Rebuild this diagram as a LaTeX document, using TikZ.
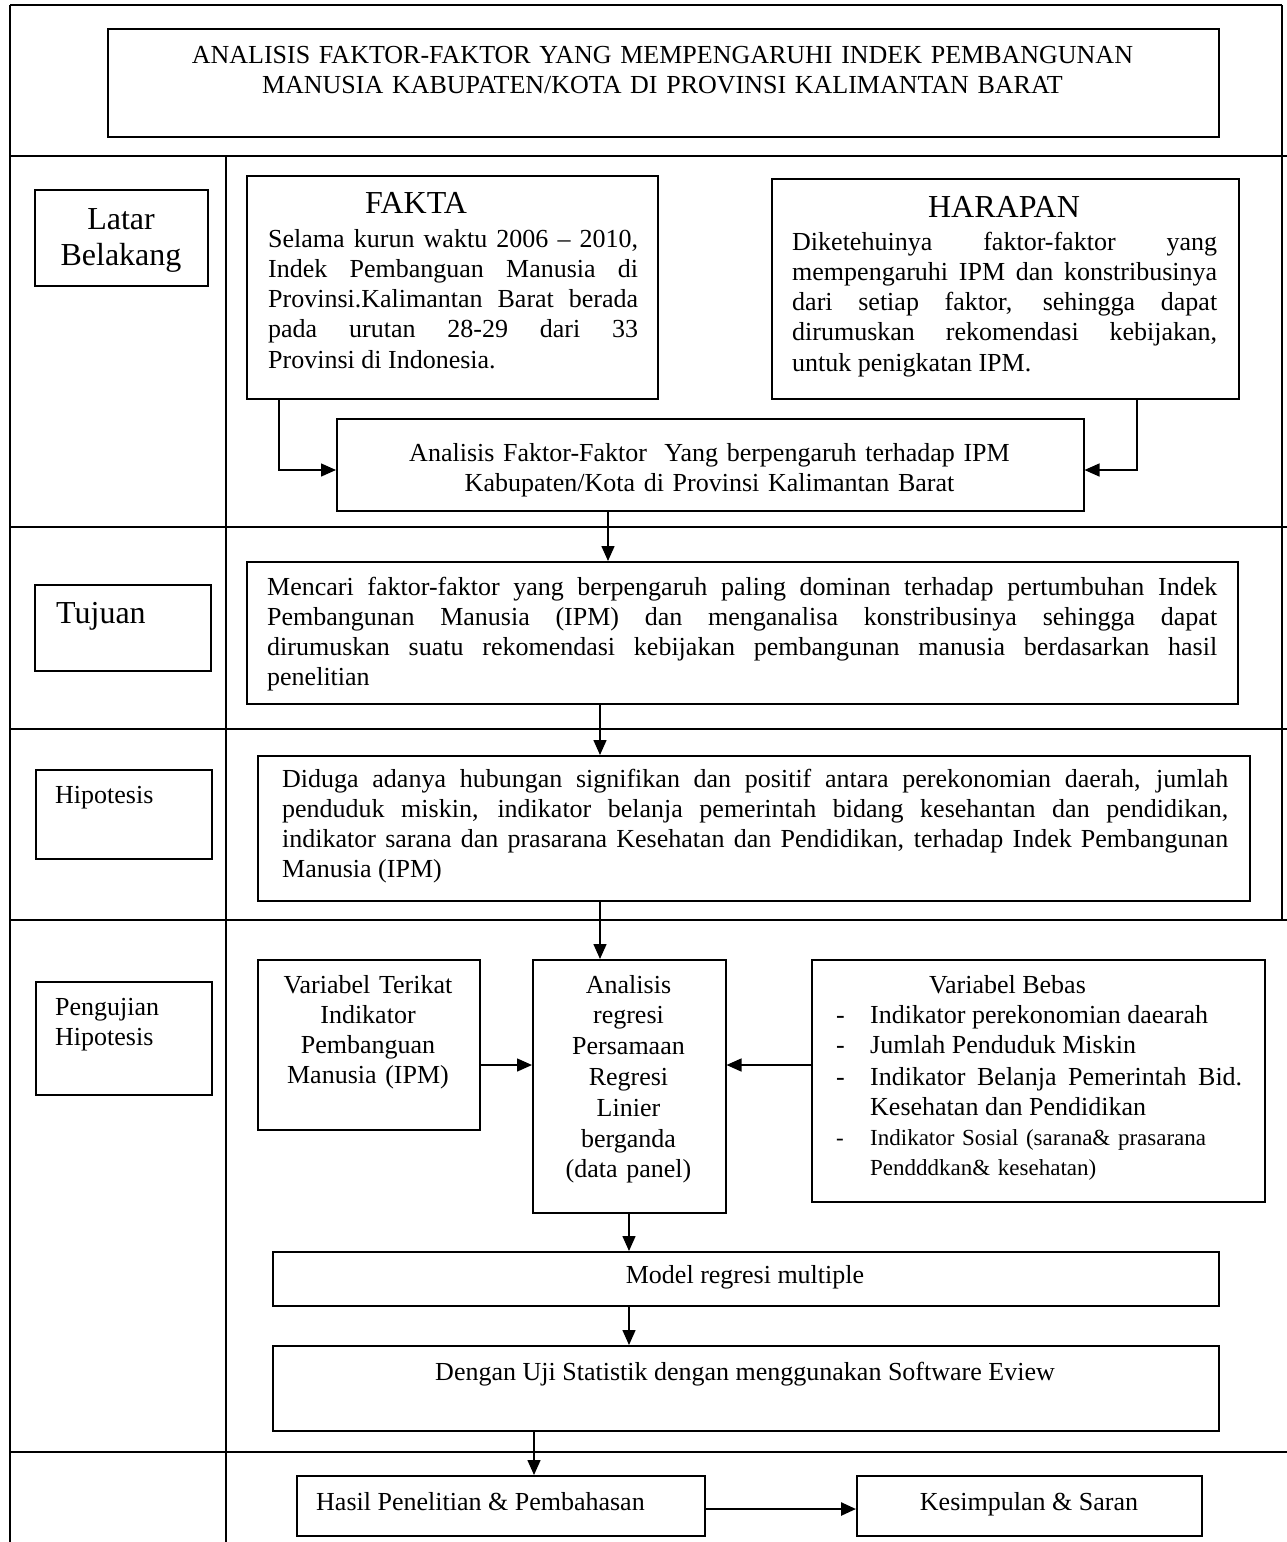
\documentclass[tikz,border=0pt]{standalone}
\usepackage{fontspec}
\setmainfont{Liberation Serif}
\usetikzlibrary{arrows.meta}
\hyphenpenalty=10000
\exhyphenpenalty=10000
\tolerance=9999
\begin{document}
\begin{tikzpicture}[x=1pt,y=-1pt,
  box/.style={draw, line width=1.5pt, inner sep=0pt, anchor=north west},
  rule/.style={line width=1.6pt},
  arr/.style={line width=1.5pt, -{Triangle[length=15pt,width=13pt]}},
  txt/.style={inner sep=0pt, font=\fontsize{26}{30.3}\selectfont},
  small/.style={inner sep=0pt, font=\fontsize{23}{30}\selectfont},
  big/.style={inner sep=0pt, font=\fontsize{32}{36}\selectfont},
  para/.style={txt, anchor=base west, align=justify},
]
\useasboundingbox (0,0) rectangle (1287,1542);
% table frame
\draw[rule] (10,5) -- (1282,5);
\draw[rule] (10,5) -- (10,1542);
\draw[rule] (1282,5) -- (1282,920);
\draw[rule] (226,156) -- (226,1542);
\foreach \yy in {156,527,729,920,1452} \draw[rule] (10,\yy) -- (1287,\yy);

% boxes
\node[box, minimum width=1111pt, minimum height=108pt] (title) at (107,28) {};
\node[box, minimum width=173pt, minimum height=96pt] (lb) at (34,189) {};
\node[box, minimum width=411pt, minimum height=223pt] (fk) at (246,175) {};
\node[box, minimum width=467pt, minimum height=220pt] (hr) at (771,178) {};
\node[box, minimum width=747pt, minimum height=92pt] (an) at (336,418) {};
\node[box, minimum width=176pt, minimum height=86pt] (tjl) at (34,584) {};
\node[box, minimum width=991pt, minimum height=142pt] (tj) at (246,561) {};
\node[box, minimum width=176pt, minimum height=89pt] (hpl) at (35,769) {};
\node[box, minimum width=992pt, minimum height=145pt] (hp) at (257,755) {};
\node[box, minimum width=176pt, minimum height=113pt] (pgl) at (35,981) {};
\node[box, minimum width=222pt, minimum height=170pt] (vt) at (257,959) {};
\node[box, minimum width=193pt, minimum height=253pt] (ar) at (532,959) {};
\node[box, minimum width=453pt, minimum height=242pt] (vb) at (811,959) {};
\node[box, minimum width=946pt, minimum height=54pt] (md) at (272,1251) {};
\node[box, minimum width=946pt, minimum height=85pt] (dg) at (272,1345) {};
\node[box, minimum width=408pt, minimum height=60pt] (hs) at (296,1475) {};
\node[box, minimum width=345pt, minimum height=60pt] (ks) at (856,1475) {};

% texts
\node[txt, anchor=base, align=center, text width=1100pt] (ttl) at (662.5,63)
  {ANALISIS FAKTOR-FAKTOR YANG MEMPENGARUHI INDEK PEMBANGUNAN\\MANUSIA KABUPATEN/KOTA DI PROVINSI KALIMANTAN BARAT};
\node[big, anchor=base, align=center, text width=170pt] (lbt) at (121,229) {Latar\\Belakang};
\node[big, anchor=base] (fkh) at (416,213) {FAKTA};
\node[para, text width=370pt] (fkb) at (268,247)
  {Selama kurun waktu 2006 – 2010,\linebreak Indek Pembanguan Manusia di\linebreak Provinsi.Kalimantan Barat berada\linebreak pada urutan 28-29 dari 33\linebreak Provinsi di Indonesia.};
\node[big, anchor=base] (hrh) at (1004,217) {HARAPAN};
\node[para, text width=425pt] (hrb) at (792,250)
  {Diketehuinya faktor-faktor yang\linebreak mempengaruhi IPM dan konstribusinya\linebreak dari setiap faktor, sehingga dapat\linebreak dirumuskan rekomendasi kebijakan,\linebreak untuk penigkatan IPM.};
\node[txt, anchor=base, align=center, text width=740pt] (ant) at (709.5,461)
  {Analisis Faktor-Faktor\ \ Yang berpengaruh terhadap IPM\\Kabupaten/Kota di Provinsi Kalimantan Barat};
\node[big, anchor=base west] (tjlt) at (56,623) {Tujuan};
\node[para, text width=950pt] (tjb) at (267,595)
  {Mencari faktor-faktor yang berpengaruh paling dominan terhadap pertumbuhan Indek\linebreak Pembangunan Manusia (IPM) dan menganalisa konstribusinya sehingga dapat\linebreak dirumuskan suatu rekomendasi kebijakan pembangunan manusia berdasarkan hasil\linebreak penelitian};
\node[txt, anchor=base west] (hplt) at (55,803) {Hipotesis};
\node[para, text width=946pt] (hpb) at (282,787)
  {Diduga adanya hubungan signifikan dan positif antara perekonomian daerah, jumlah\linebreak penduduk miskin, indikator belanja pemerintah bidang kesehantan dan pendidikan,\linebreak indikator sarana dan prasarana Kesehatan dan Pendidikan, terhadap Indek Pembangunan\linebreak Manusia (IPM)};
\node[txt, anchor=base west, align=left, text width=150pt] (pglt) at (55,1015) {Pengujian\\Hipotesis};
\node[txt, anchor=base, align=center, text width=215pt] (vtt) at (368,993)
  {Variabel Terikat\\Indikator\\Pembanguan\\Manusia (IPM)};
\node[inner sep=0pt, font=\fontsize{26}{30.8}\selectfont, anchor=base, align=center, text width=190pt] (art) at (628.5,993)
  {Analisis\\regresi\\Persamaan\\Regresi\\Linier\\berganda\\(data panel)};
\node[txt, anchor=base west] (vbh) at (929,993) {Variabel Bebas};
\node[txt, anchor=base west] (d1) at (836,1023) {-};
\node[txt, anchor=base west] (d2) at (836,1053) {-};
\node[txt, anchor=base west] (d3) at (836,1085) {-};
\node[small, anchor=base west] (d4) at (836,1145) {-};
\node[txt, anchor=base west] (i1) at (870,1023) {Indikator perekonomian daearah};
\node[txt, anchor=base west] (i2) at (870,1053) {Jumlah Penduduk Miskin};
\node[para, text width=372pt] (i3) at (870,1085) {Indikator Belanja Pemerintah Bid.\linebreak Kesehatan dan Pendidikan};
\node[small, anchor=base west, align=left, text width=380pt] (i4) at (870,1145) {Indikator Sosial (sarana\& prasarana\\Pendddkan\& kesehatan)};
\node[txt, anchor=base] (mdt) at (745,1283) {Model regresi multiple};
\node[txt, anchor=base] (dgt) at (745,1380) {Dengan Uji Statistik dengan menggunakan Software Eview};
\node[txt, anchor=base west] (hst) at (316,1510) {Hasil Penelitian \& Pembahasan};
\node[txt, anchor=base] (kst) at (1029,1510) {Kesimpulan \& Saran};

% connectors
\coordinate (c1) at (279,470);
\coordinate (c2) at (1137,470);
\coordinate (c3) at (608,0);
\coordinate (c4) at (600,0);
\coordinate (c5) at (0,1065);
\coordinate (c6) at (629,0);
\coordinate (c7) at (534,0);
\coordinate (c8) at (0,1509);
\draw[arr] (fk.south -| c1) |- (an.west |- c1);
\draw[arr] (hr.south -| c2) |- (an.east |- c2);
\draw[arr] (an.south -| c3) -- (tj.north -| c3);
\draw[arr] (tj.south -| c4) -- (hp.north -| c4);
\draw[arr] (hp.south -| c4) -- (ar.north -| c4);
\draw[arr] (vt.east |- c5) -- (ar.west |- c5);
\draw[arr] (vb.west |- c5) -- (ar.east |- c5);
\draw[arr] (ar.south -| c6) -- (md.north -| c6);
\draw[arr] (md.south -| c6) -- (dg.north -| c6);
\draw[arr] (dg.south -| c7) -- (hs.north -| c7);
\draw[arr, line width=2.5pt] (hs.east |- c8) -- (ks.west |- c8);
\end{tikzpicture}
\end{document}
